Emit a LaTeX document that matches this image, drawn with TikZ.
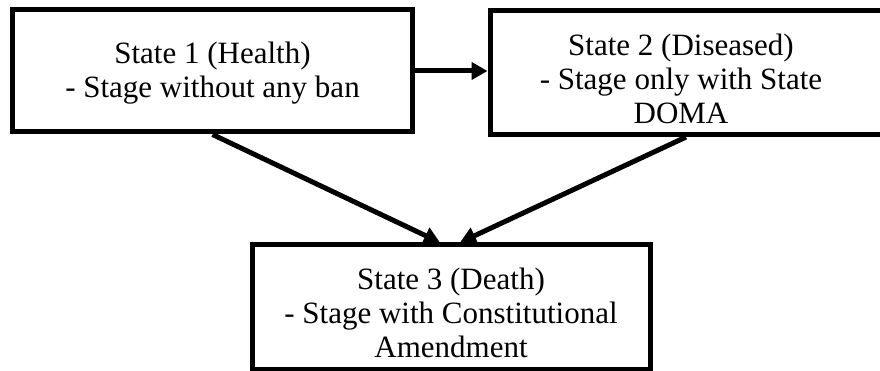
\documentclass[tikz,border=0pt]{standalone}
\usepackage{fontspec}
\setmainfont{Liberation Serif}
\usetikzlibrary{arrows.meta,calc}
\begin{document}
\begin{tikzpicture}[x=1pt,y=-1pt,
  box/.style={draw, line width=5pt, rectangle, inner sep=0pt},
  txt/.style={align=center, inner sep=0pt, font=\fontsize{31}{34}\selectfont},
  conn/.style={line width=5pt, -{Triangle[length=16pt,width=17pt]}}]
\useasboundingbox (0,0) rectangle (880,371);
\node[box, minimum width=400pt, minimum height=122pt] (b1) at (212.5,71) {};
\node[box, minimum width=392pt, minimum height=124.5pt] (b2) at (686,72.3) {};
\node[box, minimum width=398pt, minimum height=124pt] (b3) at (451,307) {};
\node[txt] (b1t) at (212.5,72.8) {State 1 (Health)\\- Stage without any ban};
\node[txt] (b2t) at (681,78.4) {State 2 (Diseased)\\- Stage only with State\\DOMA};
\node[txt] (b3t) at (451,312.4) {State 3 (Death)\\- Stage with Constitutional\\Amendment};
\coordinate (t1) at ($(b3.north)+(-11,0)$);
\coordinate (t2) at ($(b3.north)+(9,0)$);
\draw[conn] (b1.east) -- (b1.east -| b2.west);
\draw[conn] (b1.south) -- (t1);
\draw[conn] (b2.south) -- (t2);
\end{tikzpicture}
\end{document}
